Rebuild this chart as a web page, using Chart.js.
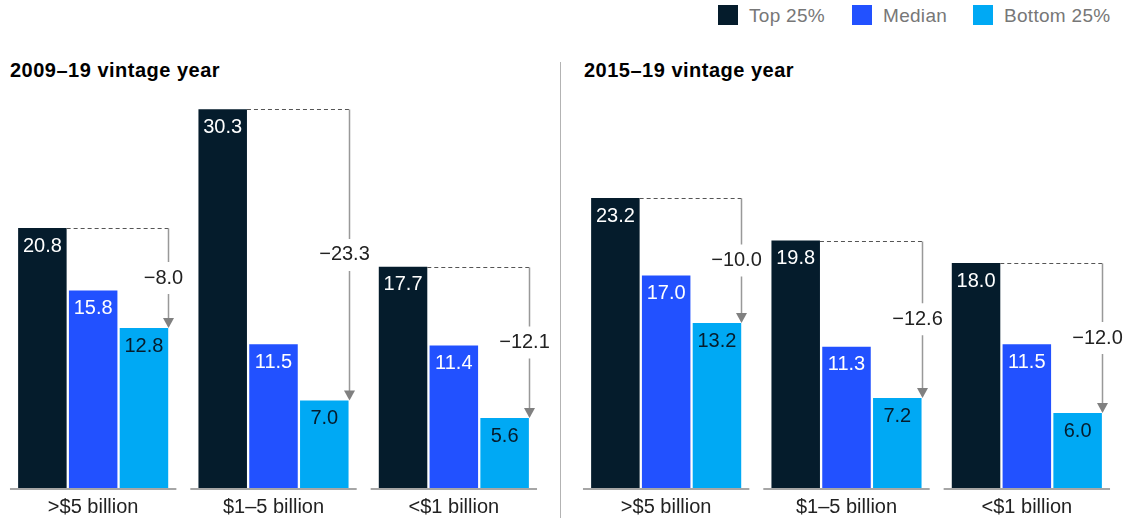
<!DOCTYPE html>
<html>
<head>
<meta charset="utf-8">
<script src="https://cdn.jsdelivr.net/npm/chart.js@4.4.1/dist/chart.umd.min.js"></script>
<style>
  body { margin: 0; width: 1131px; height: 518px; background: #fff; position: relative; overflow: hidden;
         font-family: "Liberation Sans", Arial, sans-serif; }
  .sw { position: absolute; top: 5px; width: 20px; height: 20px; }
  .lt { position: absolute; top: 6px; font-size: 19px; line-height: 19px; color: #777; white-space: nowrap; letter-spacing: 0.3px; }
  .title { position: absolute; top: 60px; font-size: 20px; line-height: 20px; font-weight: bold; color: #000; white-space: nowrap; letter-spacing: 0.5px; }
  .divider { position: absolute; left: 560px; top: 62px; width: 1px; height: 456px; background: #b3b3b3; }
  canvas { position: absolute; top: 0; }
</style>
</head>
<body>
<div id="legend"></div>
<div class="title" style="left:10px">2009–19 vintage year</div>
<div class="title" style="left:584px">2015–19 vintage year</div>
<div class="divider"></div>
<canvas id="c1" width="560" height="518" style="left:0"></canvas>
<canvas id="c2" width="571" height="518" style="left:560px"></canvas>
<script>
const categories = ['>$5 billion', '$1–5 billion', '<$1 billion'];
const seriesNames = ['Top 25%', 'Median', 'Bottom 25%'];
const colors = ['#051c2c', '#2251ff', '#00a9f4'];
const labelColors = ['#fff', '#fff', '#051c2c'];

// 2009–19 vintage year
const top09 = [20.8, 30.3, 17.7];
const med09 = [15.8, 11.5, 11.4];
const bot09 = [12.8, 7.0, 5.6];
// 2015–19 vintage year
const top15 = [23.2, 19.8, 18.0];
const med15 = [17.0, 11.3, 11.5];
const bot15 = [13.2, 7.2, 6.0];

// legend
const legendX = [718, 852, 973];
const legend = document.getElementById('legend');
seriesNames.forEach((n, i) => {
  legend.innerHTML += `<div class="sw" style="left:${legendX[i]}px;background:${colors[i]}"></div>` +
    `<div class="lt" style="left:${legendX[i] + 31}px">${n}</div>`;
});

const FONT = '20px "Liberation Sans", Arial, sans-serif';
const VFONT = '20px "Liberation Sans", Arial, sans-serif';

const marks = {
  id: 'marks',
  afterDatasetsDraw(chart) {
    const ctx = chart.ctx;
    const area = chart.chartArea;
    const xs = chart.scales.x;
    const metas = [0, 1, 2].map(i => chart.getDatasetMeta(i));
    const slot = (area.right - area.left) / categories.length;
    const groupW = slot * 0.845;
    ctx.save();

    // baselines + category labels
    categories.forEach((c, i) => {
      const cx = xs.getPixelForValue(i);
      ctx.strokeStyle = '#a6a6a6';
      ctx.lineWidth = 2;
      ctx.beginPath();
      ctx.moveTo(cx - groupW / 2 - 7, area.bottom + 1);
      ctx.lineTo(cx + groupW / 2 + 7, area.bottom + 1);
      ctx.stroke();
      ctx.fillStyle = '#222';
      ctx.font = FONT;
      ctx.textAlign = 'center';
      ctx.textBaseline = 'middle';
      ctx.fillText(c, cx, area.bottom + 19);
    });

    // value labels
    metas.forEach((m, s) => {
      m.data.forEach((bar, i) => {
        ctx.fillStyle = labelColors[s];
        ctx.font = VFONT;
        ctx.textAlign = 'center';
        ctx.textBaseline = 'middle';
        const v = chart.data.datasets[s].data[i];
        ctx.fillText(v.toFixed(1), bar.x, bar.y + 18);
      });
    });

    // difference annotations
    categories.forEach((c, i) => {
      const a = metas[0].data[i];
      const b = metas[2].data[i];
      const xr = Math.round(b.x + b.width / 2) + 0.5;
      const ya = Math.round(a.y) + 0.5;
      ctx.strokeStyle = '#555';
      ctx.lineWidth = 1;
      ctx.setLineDash([4, 3]);
      ctx.beginPath();
      ctx.moveTo(a.x + a.width / 2, ya);
      ctx.lineTo(xr, ya);
      ctx.stroke();
      ctx.setLineDash([]);

      const mid = (a.y + b.y) / 2;
      ctx.strokeStyle = '#999';
      ctx.lineWidth = 1.5;
      ctx.beginPath();
      ctx.moveTo(xr, ya);
      ctx.lineTo(xr, mid - 16);
      ctx.moveTo(xr, mid + 16);
      ctx.lineTo(xr, b.y - 8);
      ctx.stroke();
      ctx.fillStyle = '#808080';
      ctx.beginPath();
      ctx.moveTo(xr - 5.5, b.y - 10);
      ctx.lineTo(xr + 5.5, b.y - 10);
      ctx.lineTo(xr, b.y);
      ctx.closePath();
      ctx.fill();

      const diff = chart.data.datasets[2].data[i] - chart.data.datasets[0].data[i];
      ctx.fillStyle = '#222';
      ctx.font = VFONT;
      ctx.textAlign = 'center';
      ctx.textBaseline = 'middle';
      ctx.fillText('\u2212' + Math.abs(diff).toFixed(1), xr - 5, mid);
    });
    ctx.restore();
  }
};

function makeChart(id, series, pad) {
  return new Chart(document.getElementById(id), {
    type: 'bar',
    data: {
      labels: categories,
      datasets: series.map((d, i) => ({
        label: seriesNames[i],
        data: d,
        backgroundColor: colors[i],
        categoryPercentage: 0.845,
        barPercentage: 0.955
      }))
    },
    options: {
      responsive: false,
      animation: false,
      devicePixelRatio: 1,
      layout: { padding: pad },
      plugins: { legend: { display: false }, tooltip: { enabled: false } },
      scales: {
        x: { display: false },
        y: { display: false, min: 0, max: 32 }
      }
    },
    plugins: [marks]
  });
}

makeChart('c1', [top09, med09, bot09], { left: 3, right: 16, top: 88, bottom: 30 });
makeChart('c2', [top15, med15, bot15], { left: 16, right: 14, top: 88, bottom: 30 });
</script>
</body>
</html>
